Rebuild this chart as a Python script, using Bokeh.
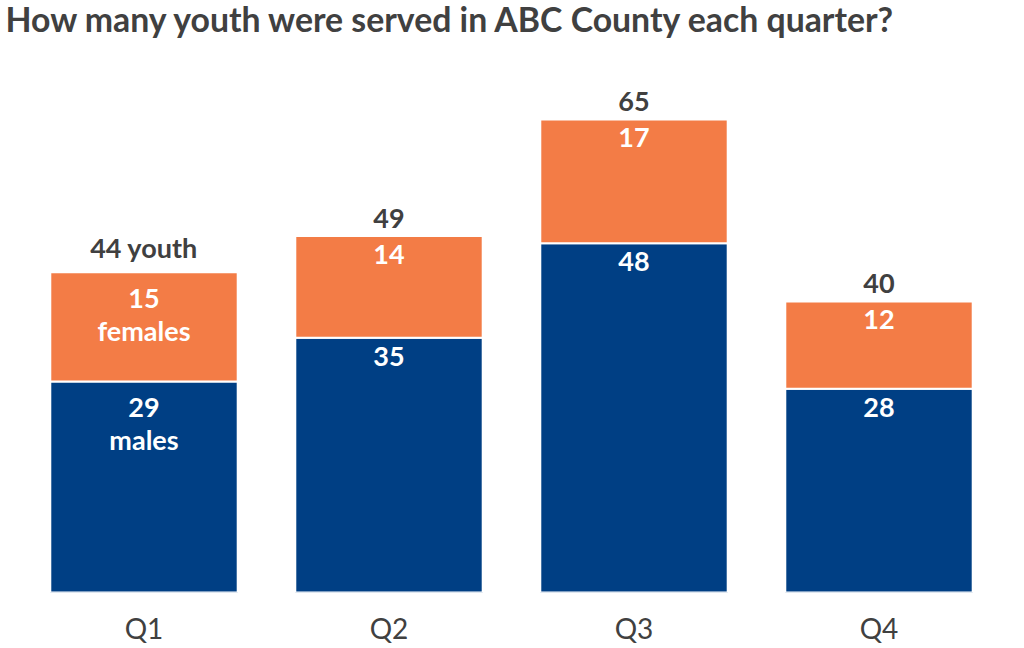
from bokeh.plotting import figure
from bokeh.models import ColumnDataSource, Range1d, Label, FixedTicker
from bokeh.core.properties import value
from bokeh.embed import file_html
from bokeh.resources import INLINE

title_text = "How many youth were served in ABC County each quarter?"
quarters = ["Q1", "Q2", "Q3", "Q4"]
males = [29, 35, 48, 28]
females = [15, 14, 17, 12]
male_labels = ["29\nmales", "35", "48", "28"]
female_labels = ["15\nfemales", "14", "17", "12"]
total_labels = ["44 youth", "49", "65", "40"]

xpos = list(range(1, len(quarters) + 1))
totals = [m + f for m, f in zip(males, females)]
src = ColumnDataSource(dict(x=xpos, males=males, females=females, totals=totals,
                            ml=male_labels, fl=female_labels, tl=total_labels))

BLUE = "#003F84"
ORANGE = "#F37C46"
DARK = "#404040"

Y_END = 81.35
X_START = 0.5 - 16 / 245
p = figure(width=1024, height=648, x_range=Range1d(X_START, 4.5),
           y_range=Range1d(0, Y_END), output_backend="svg", toolbar_location=None,
           min_border_left=5, min_border_right=23, min_border_bottom=56, min_border_top=0)

p.add_layout(Label(x=X_START, y=Y_END, x_offset=0, y_offset=-18, text=title_text,
                   text_font="Lato", text_font_size="33.8px", text_font_style="bold",
                   text_color=DARK, text_baseline="alphabetic", text_align="left"))

p.vbar(x="x", bottom=0, top="males", width=0.765, source=src, fill_color=BLUE,
       line_color="white", line_width=2)
p.vbar(x="x", bottom="males", top="totals", width=0.765, source=src, fill_color=ORANGE,
       line_color="white", line_width=2)

common = dict(text_font=value("Lato"), text_font_size="27px", text_font_style="bold",
              text_align="center", text_line_height=1.0)
p.text(x="x", y="males", text="ml", source=src, text_baseline="top", y_offset=9,
       text_color="white", **common)
p.text(x="x", y="totals", text="fl", source=src, text_baseline="top", y_offset=9,
       text_color="white", **common)
p.text(x="x", y="totals", text="tl", source=src, text_baseline="bottom", y_offset=-8,
       text_color=DARK, **common)

p.yaxis.visible = False
p.xaxis.ticker = FixedTicker(ticks=xpos)
p.xaxis.major_label_overrides = {i: q for i, q in zip(xpos, quarters)}
p.xaxis.axis_line_color = None
p.xaxis.major_tick_line_color = None
p.xaxis.minor_tick_line_color = None
p.xaxis.major_label_text_font = "Lato"
p.xaxis.major_label_text_font_size = "28px"
p.xaxis.major_label_text_color = DARK
p.xaxis.major_label_standoff = 12
p.xgrid.visible = False
p.ygrid.visible = False
p.outline_line_color = None

open("out.html", "w").write(file_html(p, INLINE))
